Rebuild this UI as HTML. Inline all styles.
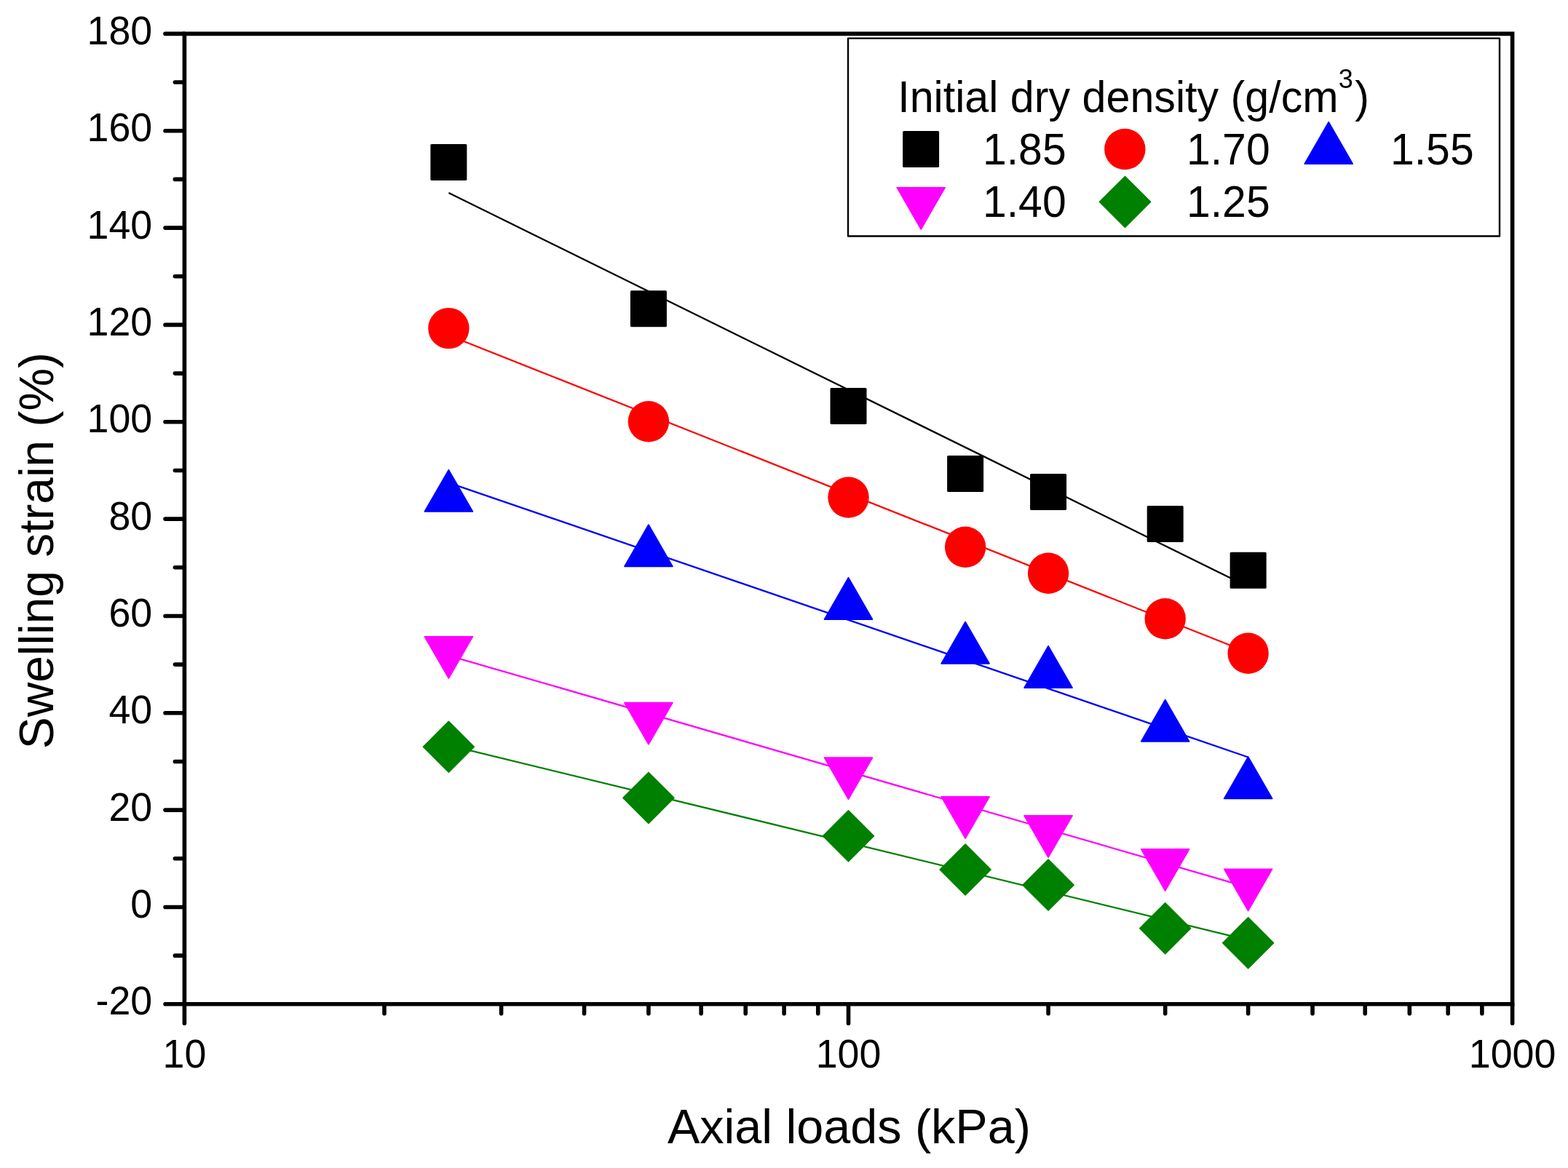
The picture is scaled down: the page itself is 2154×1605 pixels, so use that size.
<!DOCTYPE html>
<html><head><meta charset="utf-8"><title>Swelling strain vs axial loads</title>
<style>html,body{margin:0;padding:0;background:#fff;}svg{display:block;}</style>
</head><body>
<svg width="2154" height="1605" viewBox="0 0 2154 1605">
<rect x="0" y="0" width="2154" height="1605" fill="#fff"/>
<line x1="616.36" y1="265.00" x2="1714.64" y2="806.30" stroke="#000000" stroke-width="2.3"/>
<line x1="616.36" y1="460.80" x2="1714.64" y2="896.50" stroke="#ff0000" stroke-width="2.3"/>
<line x1="616.36" y1="663.30" x2="1714.64" y2="1040.50" stroke="#0000ff" stroke-width="2.3"/>
<line x1="616.36" y1="900.80" x2="1714.64" y2="1219.40" stroke="#ff00ff" stroke-width="2.3"/>
<line x1="616.36" y1="1024.10" x2="1714.64" y2="1291.80" stroke="#008000" stroke-width="2.3"/>
<rect x="591.36" y="197.90" width="50.00" height="50.00" rx="1.6" fill="#000000"/>
<circle cx="616.36" cy="451.10" r="28.20" fill="#ff0000"/>
<polygon points="616.36,645.60 649.41,703.00 583.31,703.00" fill="#0000ff" stroke="#0000ff" stroke-width="1.6" stroke-linejoin="round"/>
<polygon points="583.31,874.80 649.41,874.80 616.36,932.20" fill="#ff00ff" stroke="#ff00ff" stroke-width="1.6" stroke-linejoin="round"/>
<polygon points="616.36,991.35 651.31,1026.30 616.36,1061.25 581.41,1026.30" fill="#008000" stroke="#008000" stroke-width="1.6" stroke-linejoin="round"/>
<rect x="865.93" y="399.30" width="50.00" height="50.00" rx="1.6" fill="#000000"/>
<circle cx="890.93" cy="579.20" r="28.20" fill="#ff0000"/>
<polygon points="890.93,721.00 923.98,778.40 857.88,778.40" fill="#0000ff" stroke="#0000ff" stroke-width="1.6" stroke-linejoin="round"/>
<polygon points="857.88,965.50 923.98,965.50 890.93,1022.90" fill="#ff00ff" stroke="#ff00ff" stroke-width="1.6" stroke-linejoin="round"/>
<polygon points="890.93,1061.45 925.88,1096.40 890.93,1131.35 855.98,1096.40" fill="#008000" stroke="#008000" stroke-width="1.6" stroke-linejoin="round"/>
<rect x="1140.50" y="532.90" width="50.00" height="50.00" rx="1.6" fill="#000000"/>
<circle cx="1165.50" cy="683.50" r="28.20" fill="#ff0000"/>
<polygon points="1165.50,793.70 1198.55,851.10 1132.45,851.10" fill="#0000ff" stroke="#0000ff" stroke-width="1.6" stroke-linejoin="round"/>
<polygon points="1132.45,1041.00 1198.55,1041.00 1165.50,1098.40" fill="#ff00ff" stroke="#ff00ff" stroke-width="1.6" stroke-linejoin="round"/>
<polygon points="1165.50,1113.85 1200.45,1148.80 1165.50,1183.75 1130.55,1148.80" fill="#008000" stroke="#008000" stroke-width="1.6" stroke-linejoin="round"/>
<rect x="1301.11" y="626.00" width="50.00" height="50.00" rx="1.6" fill="#000000"/>
<circle cx="1326.11" cy="751.70" r="28.20" fill="#ff0000"/>
<polygon points="1326.11,854.50 1359.16,911.90 1293.06,911.90" fill="#0000ff" stroke="#0000ff" stroke-width="1.6" stroke-linejoin="round"/>
<polygon points="1293.06,1094.80 1359.16,1094.80 1326.11,1152.20" fill="#ff00ff" stroke="#ff00ff" stroke-width="1.6" stroke-linejoin="round"/>
<polygon points="1326.11,1160.05 1361.06,1195.00 1326.11,1229.95 1291.16,1195.00" fill="#008000" stroke="#008000" stroke-width="1.6" stroke-linejoin="round"/>
<rect x="1415.07" y="650.90" width="50.00" height="50.00" rx="1.6" fill="#000000"/>
<circle cx="1440.07" cy="787.70" r="28.20" fill="#ff0000"/>
<polygon points="1440.07,887.70 1473.12,945.10 1407.02,945.10" fill="#0000ff" stroke="#0000ff" stroke-width="1.6" stroke-linejoin="round"/>
<polygon points="1407.02,1120.80 1473.12,1120.80 1440.07,1178.20" fill="#ff00ff" stroke="#ff00ff" stroke-width="1.6" stroke-linejoin="round"/>
<polygon points="1440.07,1181.15 1475.02,1216.10 1440.07,1251.05 1405.12,1216.10" fill="#008000" stroke="#008000" stroke-width="1.6" stroke-linejoin="round"/>
<rect x="1575.68" y="695.10" width="50.00" height="50.00" rx="1.6" fill="#000000"/>
<circle cx="1600.68" cy="850.20" r="28.20" fill="#ff0000"/>
<polygon points="1600.68,961.50 1633.73,1018.90 1567.63,1018.90" fill="#0000ff" stroke="#0000ff" stroke-width="1.6" stroke-linejoin="round"/>
<polygon points="1567.63,1166.80 1633.73,1166.80 1600.68,1224.20" fill="#ff00ff" stroke="#ff00ff" stroke-width="1.6" stroke-linejoin="round"/>
<polygon points="1600.68,1240.75 1635.63,1275.70 1600.68,1310.65 1565.73,1275.70" fill="#008000" stroke="#008000" stroke-width="1.6" stroke-linejoin="round"/>
<rect x="1689.64" y="758.80" width="50.00" height="50.00" rx="1.6" fill="#000000"/>
<circle cx="1714.64" cy="897.80" r="28.20" fill="#ff0000"/>
<polygon points="1714.64,1040.00 1747.69,1097.40 1681.59,1097.40" fill="#0000ff" stroke="#0000ff" stroke-width="1.6" stroke-linejoin="round"/>
<polygon points="1681.59,1194.20 1747.69,1194.20 1714.64,1251.60" fill="#ff00ff" stroke="#ff00ff" stroke-width="1.6" stroke-linejoin="round"/>
<polygon points="1714.64,1260.75 1749.59,1295.70 1714.64,1330.65 1679.69,1295.70" fill="#008000" stroke="#008000" stroke-width="1.6" stroke-linejoin="round"/>
<g stroke="#000" stroke-width="5.6" stroke-linecap="round" fill="none">
<path d="M253.4 1379.8 L253.4 46.4 L2077.6 46.4 L2077.6 1379.8 Z" stroke-linecap="square" stroke-linejoin="miter"/>
<line x1="227.00" y1="1379.80" x2="253.40" y2="1379.80"/>
<line x1="227.00" y1="1246.46" x2="253.40" y2="1246.46"/>
<line x1="227.00" y1="1113.12" x2="253.40" y2="1113.12"/>
<line x1="227.00" y1="979.78" x2="253.40" y2="979.78"/>
<line x1="227.00" y1="846.44" x2="253.40" y2="846.44"/>
<line x1="227.00" y1="713.10" x2="253.40" y2="713.10"/>
<line x1="227.00" y1="579.76" x2="253.40" y2="579.76"/>
<line x1="227.00" y1="446.42" x2="253.40" y2="446.42"/>
<line x1="227.00" y1="313.08" x2="253.40" y2="313.08"/>
<line x1="227.00" y1="179.74" x2="253.40" y2="179.74"/>
<line x1="227.00" y1="46.40" x2="253.40" y2="46.40"/>
<line x1="240.40" y1="1313.13" x2="253.40" y2="1313.13"/>
<line x1="240.40" y1="1179.79" x2="253.40" y2="1179.79"/>
<line x1="240.40" y1="1046.45" x2="253.40" y2="1046.45"/>
<line x1="240.40" y1="913.11" x2="253.40" y2="913.11"/>
<line x1="240.40" y1="779.77" x2="253.40" y2="779.77"/>
<line x1="240.40" y1="646.43" x2="253.40" y2="646.43"/>
<line x1="240.40" y1="513.09" x2="253.40" y2="513.09"/>
<line x1="240.40" y1="379.75" x2="253.40" y2="379.75"/>
<line x1="240.40" y1="246.41" x2="253.40" y2="246.41"/>
<line x1="240.40" y1="113.07" x2="253.40" y2="113.07"/>
<line x1="253.40" y1="1379.80" x2="253.40" y2="1406.20"/>
<line x1="1165.50" y1="1379.80" x2="1165.50" y2="1406.20"/>
<line x1="2077.60" y1="1379.80" x2="2077.60" y2="1406.20"/>
<line x1="527.97" y1="1379.80" x2="527.97" y2="1392.80"/>
<line x1="688.58" y1="1379.80" x2="688.58" y2="1392.80"/>
<line x1="802.54" y1="1379.80" x2="802.54" y2="1392.80"/>
<line x1="890.93" y1="1379.80" x2="890.93" y2="1392.80"/>
<line x1="963.15" y1="1379.80" x2="963.15" y2="1392.80"/>
<line x1="1024.21" y1="1379.80" x2="1024.21" y2="1392.80"/>
<line x1="1077.11" y1="1379.80" x2="1077.11" y2="1392.80"/>
<line x1="1123.76" y1="1379.80" x2="1123.76" y2="1392.80"/>
<line x1="1440.07" y1="1379.80" x2="1440.07" y2="1392.80"/>
<line x1="1600.68" y1="1379.80" x2="1600.68" y2="1392.80"/>
<line x1="1714.64" y1="1379.80" x2="1714.64" y2="1392.80"/>
<line x1="1803.03" y1="1379.80" x2="1803.03" y2="1392.80"/>
<line x1="1875.25" y1="1379.80" x2="1875.25" y2="1392.80"/>
<line x1="1936.31" y1="1379.80" x2="1936.31" y2="1392.80"/>
<line x1="1989.21" y1="1379.80" x2="1989.21" y2="1392.80"/>
<line x1="2035.86" y1="1379.80" x2="2035.86" y2="1392.80"/>
</g>
<g font-family="'Liberation Sans', sans-serif" font-size="54.5" fill="#000" text-anchor="end">
<text transform="translate(209.2,1394.40) scale(0.986,1.03)">-20</text>
<text transform="translate(209.2,1261.06) scale(0.986,1.03)">0</text>
<text transform="translate(209.2,1127.72) scale(0.986,1.03)">20</text>
<text transform="translate(209.2,994.38) scale(0.986,1.03)">40</text>
<text transform="translate(209.2,861.04) scale(0.986,1.03)">60</text>
<text transform="translate(209.2,727.70) scale(0.986,1.03)">80</text>
<text transform="translate(209.2,594.36) scale(0.986,1.03)">100</text>
<text transform="translate(209.2,461.02) scale(0.986,1.03)">120</text>
<text transform="translate(209.2,327.68) scale(0.986,1.03)">140</text>
<text transform="translate(209.2,194.34) scale(0.986,1.03)">160</text>
<text transform="translate(209.2,61.00) scale(0.986,1.03)">180</text>
</g>
<g font-family="'Liberation Sans', sans-serif" font-size="54.5" fill="#000" text-anchor="middle">
<text transform="translate(253.40,1466.8) scale(0.986,1.03)">10</text>
<text transform="translate(1165.50,1466.8) scale(0.986,1.03)">100</text>
<text transform="translate(2077.60,1466.8) scale(0.986,1.03)">1000</text>
</g>
<text font-family="'Liberation Sans', sans-serif" font-size="66" text-anchor="middle" transform="translate(1166.4,1570.8) scale(1.0077,1.024)">Axial loads (kPa)</text>
<text font-family="'Liberation Sans', sans-serif" font-size="66" transform="translate(73.2,1029.2) rotate(-90) scale(0.9976,1.017)">Swelling strain (%)</text>
<rect x="1165" y="52.6" width="895" height="271.9" fill="#fff" stroke="#000" stroke-width="2.4" stroke-linejoin="round"/>
<text font-family="'Liberation Sans', sans-serif" font-size="60" transform="translate(1233.2,154.0) scale(0.987,1.025)">Initial dry density (g/cm<tspan font-size="36.5" dx="0" dy="-32.3">3</tspan><tspan dx="2.6" dy="32.3">)</tspan></text>
<rect x="1240.10" y="180.00" width="50.00" height="50.00" rx="1.6" fill="#000000"/>
<circle cx="1545.30" cy="205.00" r="28.20" fill="#ff0000"/>
<polygon points="1825.20,167.70 1858.25,225.10 1792.15,225.10" fill="#0000ff" stroke="#0000ff" stroke-width="1.6" stroke-linejoin="round"/>
<polygon points="1232.15,257.70 1298.25,257.70 1265.20,315.10" fill="#ff00ff" stroke="#ff00ff" stroke-width="1.6" stroke-linejoin="round"/>
<polygon points="1545.50,242.45 1580.45,277.40 1545.50,312.35 1510.55,277.40" fill="#008000" stroke="#008000" stroke-width="1.6" stroke-linejoin="round"/>
<g font-family="'Liberation Sans', sans-serif" font-size="60" fill="#000">
<text transform="translate(1350,225.8) scale(0.982,1.031)">1.85</text>
<text transform="translate(1630,225.8) scale(0.982,1.031)">1.70</text>
<text transform="translate(1910,225.8) scale(0.982,1.031)">1.55</text>
<text transform="translate(1350,297.8) scale(0.982,1.031)">1.40</text>
<text transform="translate(1630,297.8) scale(0.982,1.031)">1.25</text>
</g>
</svg>
</body></html>
